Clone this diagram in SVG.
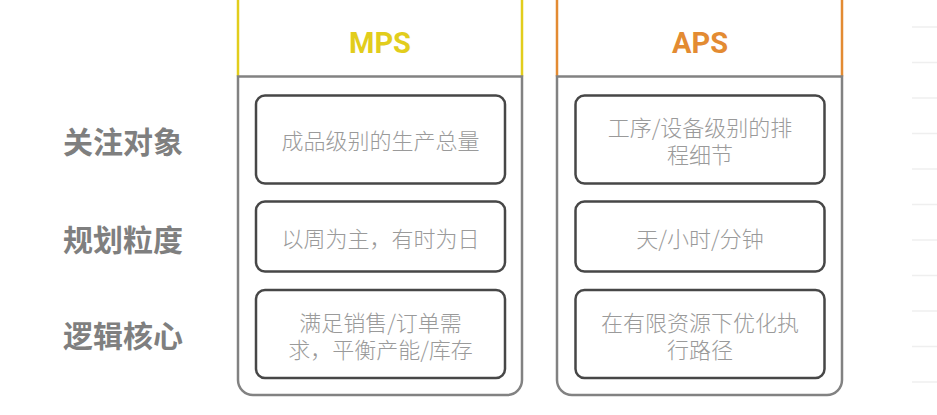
<svg xmlns="http://www.w3.org/2000/svg" width="937" height="415" viewBox="0 0 937 415">
<style>
.outer{fill:none;stroke:#828282;stroke-width:2.5}
.inner{fill:#fff;stroke:#474747;stroke-width:2.5}
.txt{font-family:"Noto Sans CJK SC","Noto Sans",sans-serif;font-size:22px;font-weight:300;fill:#9a9a9a;text-anchor:middle;dominant-baseline:central}
.lbl{font-family:"Noto Sans CJK SC","Noto Sans",sans-serif;font-size:30px;font-weight:bold;fill:#7f7f7f;dominant-baseline:central}
.hdr{font-family:Roboto,"Liberation Sans",sans-serif;font-size:29px;font-weight:bold;text-anchor:middle}
.grid{stroke:#efefef;stroke-width:1.5}
</style>
<rect width="937" height="415" fill="#fff"/>
<g id="grid">
<line class="grid" x1="912" y1="27" x2="937" y2="27"/>
<line class="grid" x1="912" y1="62.5" x2="937" y2="62.5"/>
<line class="grid" x1="912" y1="98" x2="937" y2="98"/>
<line class="grid" x1="912" y1="133.5" x2="937" y2="133.5"/>
<line class="grid" x1="912" y1="169" x2="937" y2="169"/>
<line class="grid" x1="912" y1="204.5" x2="937" y2="204.5"/>
<line class="grid" x1="912" y1="240" x2="937" y2="240"/>
<line class="grid" x1="912" y1="275.5" x2="937" y2="275.5"/>
<line class="grid" x1="912" y1="311" x2="937" y2="311"/>
<line class="grid" x1="912" y1="346.5" x2="937" y2="346.5"/>
<line class="grid" x1="912" y1="382" x2="937" y2="382"/>
</g>
<g id="labels">
<text class="lbl" x="63" y="140">关注对象</text>
<text class="lbl" x="63" y="238">规划粒度</text>
<text class="lbl" x="63" y="334">逻辑核心</text>
</g>
<g id="col-mps">
<line x1="238" y1="0" x2="238" y2="76.5" stroke="#e2cd1c" stroke-width="2.5"/>
<line x1="522" y1="0" x2="522" y2="76.5" stroke="#e2cd1c" stroke-width="2.5"/>
<path class="outer" d="M238,76.5 H522 V380 a15,15 0 0 1 -15,15 H253 a15,15 0 0 1 -15,-15 Z"/>
<text class="hdr" x="380" y="53" fill="#e2cd1c">MPS</text>
</g>
<g id="col-aps">
<line x1="557" y1="0" x2="557" y2="76.5" stroke="#e38b32" stroke-width="2.5"/>
<line x1="842" y1="0" x2="842" y2="76.5" stroke="#e38b32" stroke-width="2.5"/>
<path class="outer" d="M557,76.5 H842 V380 a15,15 0 0 1 -15,15 H572 a15,15 0 0 1 -15,-15 Z"/>
<text class="hdr" x="700" y="53" fill="#e38b32">APS</text>
</g>
<g id="mps-focus">
<rect class="inner" x="256" y="95.5" width="249" height="88" rx="9"/>
<text class="txt" x="380.5" y="139">成品级别的生产总量</text>
</g>
<g id="mps-granularity">
<rect class="inner" x="256" y="201.5" width="249" height="70" rx="9"/>
<text class="txt" x="380.5" y="237">以周为主，有时为日</text>
</g>
<g id="mps-logic">
<rect class="inner" x="256" y="290" width="249" height="88" rx="9"/>
<text class="txt"><tspan x="380.5" y="321">满足销售/订单需</tspan><tspan x="380.5" y="348">求，平衡产能/库存</tspan></text>
</g>
<g id="aps-focus">
<rect class="inner" x="575.5" y="95.5" width="249" height="88" rx="9"/>
<text class="txt"><tspan x="700" y="126">工序/设备级别的排</tspan><tspan x="700" y="153">程细节</tspan></text>
</g>
<g id="aps-granularity">
<rect class="inner" x="575.5" y="201.5" width="249" height="70" rx="9"/>
<text class="txt" x="700" y="237">天/小时/分钟</text>
</g>
<g id="aps-logic">
<rect class="inner" x="575.5" y="290" width="249" height="88" rx="9"/>
<text class="txt"><tspan x="700" y="321">在有限资源下优化执</tspan><tspan x="700" y="348">行路径</tspan></text>
</g>
<g id="connectors"/>
</svg>
